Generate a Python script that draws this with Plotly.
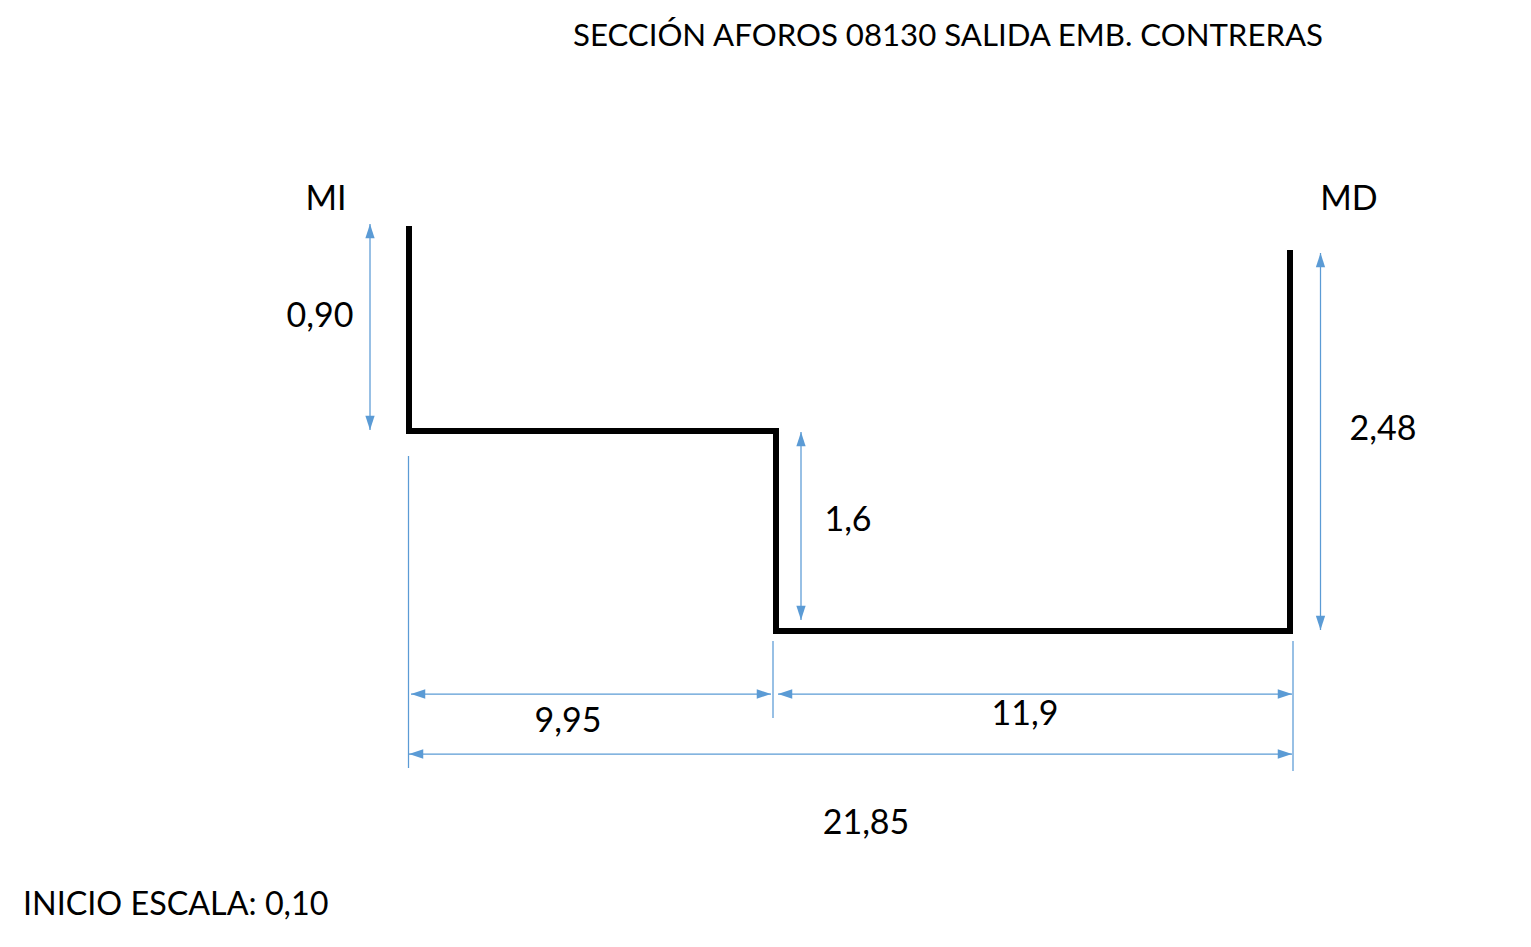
"""Cross-section sketch of gauging station 08130 (salida emb. Contreras)."""

import plotly.graph_objects as go

WIDTH = 1531
HEIGHT = 947

BLUE = "#5b9bd5"
FONT = "Lato"

# Section outline as drawn (the sketch is not to scale, so these are picture units).
profile_x = [409, 409, 776, 776, 1290, 1290]
profile_y = [226, 431, 431, 631, 631, 250]

# Dimension arrows: start and end of each one.
vertical_dim_x = [370, 801, 1320.5]
vertical_dim_top = [224, 432, 253]
vertical_dim_bottom = [430, 620, 630]

horizontal_dim_y = [694, 694, 754]
horizontal_dim_left = [411, 778, 409]
horizontal_dim_right = [771, 1292, 1292]

# Extension lines.
extension_x = [408.5, 773, 1293]
extension_top = [456, 641, 641]
extension_bottom = [768, 718, 771]

labels = ["MI", "MD", "0,90", "1,6", "2,48", "9,95", "11,9", "21,85"]
label_x = [326, 1349, 320, 848, 1383, 568, 1025, 866]
label_y = [201, 201, 318, 522, 431, 723, 716, 825]

title_text = "SECCIÓN AFOROS 08130 SALIDA EMB. CONTRERAS"
scale_text = "INICIO ESCALA: 0,10"

fig = go.Figure()

for x, y0, y1 in zip(extension_x, extension_top, extension_bottom):
    fig.add_trace(go.Scatter(x=[x, x], y=[y0, y1], mode="lines", line={"color": BLUE, "width": 1.25}))

for x, y0, y1 in zip(vertical_dim_x, vertical_dim_top, vertical_dim_bottom):
    fig.add_trace(
        go.Scatter(
            x=[x, x],
            y=[y0, y1],
            mode="lines+markers",
            line={"color": BLUE, "width": 1.25},
            marker={"symbol": "arrow", "size": 15, "color": BLUE, "angle": [0, 180], "line": {"width": 0}},
        )
    )

for y, x0, x1 in zip(horizontal_dim_y, horizontal_dim_left, horizontal_dim_right):
    fig.add_trace(
        go.Scatter(
            x=[x0, x1],
            y=[y, y],
            mode="lines+markers",
            line={"color": BLUE, "width": 1.25},
            marker={"symbol": "arrow", "size": 15, "color": BLUE, "angle": [270, 90], "line": {"width": 0}},
        )
    )

fig.add_trace(
    go.Scatter(
        x=profile_x,
        y=profile_y,
        mode="lines",
        line={"color": "#000000", "width": 6, "shape": "linear"},
    )
)

fig.add_trace(
    go.Scatter(
        x=label_x,
        y=label_y,
        mode="text",
        text=labels,
        textposition="middle center",
        textfont={"family": FONT, "size": 34, "color": "#000000"},
    )
)

fig.add_annotation(
    x=948, y=34, text=title_text, showarrow=False, xanchor="center", yanchor="middle",
    font={"family": FONT, "size": 31.2, "color": "#000000"},
)
fig.add_annotation(
    x=21, y=902, text=scale_text, showarrow=False, xanchor="left", yanchor="middle",
    font={"family": FONT, "size": 32.3, "color": "#000000"},
)

fig.update_layout(
    width=WIDTH,
    height=HEIGHT,
    margin={"l": 0, "r": 0, "t": 0, "b": 0},
    paper_bgcolor="#ffffff",
    plot_bgcolor="#ffffff",
    showlegend=False,
)
fig.update_xaxes(range=[0, WIDTH], visible=False)
fig.update_yaxes(range=[HEIGHT, 0], visible=False)

fig.write_html(
    "out.html",
    config={"displayModeBar": False},
    post_script="document.body.style.margin = '0';",
)
